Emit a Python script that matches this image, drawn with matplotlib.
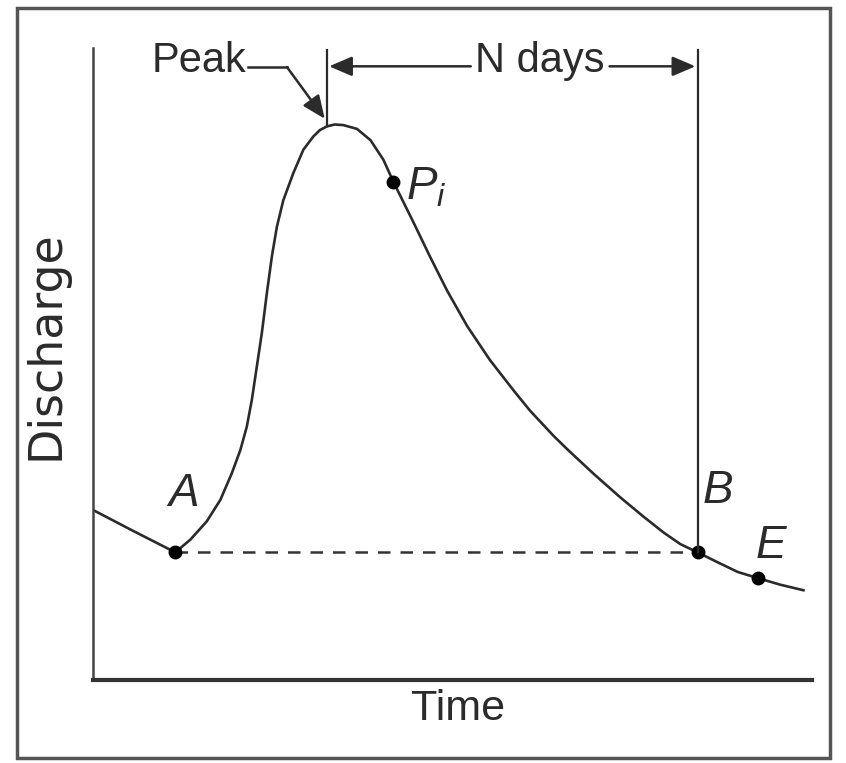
import matplotlib.pyplot as plt
from matplotlib.patches import Rectangle

# hydrograph (time, discharge in arbitrary 0-100 units)
time = [0.0, 5.6, 11.5, 13.6, 15.9, 17.8, 19.4, 20.6, 21.5, 22.2, 22.9, 23.6,
        24.3, 25.0, 25.7, 26.6, 28.0, 29.4, 30.8, 31.7, 32.7, 33.8, 35.0,
        36.9, 38.8, 40.6, 42.0, 43.4, 44.8, 47.1, 49.5, 52.3, 55.5, 58.8,
        61.1, 64.4, 66.3, 70.0, 73.7, 77.0, 79.8, 82.1, 84.5, 87.0, 90.1,
        93.0, 96.0, 99.3]
discharge = [26.9, 23.6, 20.2, 22.2, 25.1, 28.5, 32.7, 36.4, 40.1, 44.3, 49.6,
             54.9, 61.2, 67.0, 71.7, 75.9, 80.2, 83.9, 86.0, 87.0, 87.6, 87.9,
             87.8, 87.2, 85.4, 82.3, 78.8, 75.6, 72.4, 67.0, 61.6, 56.0, 50.6,
             45.8, 42.6, 38.6, 36.5, 32.6, 28.9, 25.8, 23.3, 21.5, 20.2, 18.8,
             17.1, 16.1, 15.1, 14.2]

point_names = ['A', 'B', 'E', '$P_i$']
point_time = [11.5, 84.5, 93.0, 42.0]
point_q = [20.2, 20.2, 16.1, 78.8]
label_time = [12.6, 87.4, 94.8, 46.6]
label_q = [29.4, 29.9, 21.2, 78.0]

peak_time, peak_q = 32.7, 87.6
top_q = 99.7      # top of the guide lines
arrow_q = 97.1    # level of the "N days" arrow

plt.rcParams['mathtext.fontset'] = 'custom'
plt.rcParams['mathtext.it'] = 'Liberation Sans:italic'
plt.rcParams['mathtext.rm'] = 'Liberation Sans'

ink = '#2b2b2b'
sans = ['Liberation Sans', 'DejaVu Sans']

fig = plt.figure(figsize=(8.46, 7.63), dpi=100)
ax = fig.add_axes([93 / 846, 83 / 763, 719 / 846, 632 / 763])
ax.set_xlim(0, 100.5)
ax.set_ylim(0, 100)
ax.set_xticks([])
ax.set_yticks([])
for s in ['top', 'right']:
    ax.spines[s].set_visible(False)
ax.spines['left'].set_linewidth(1.8)
ax.spines['left'].set_color('#444444')
ax.spines['bottom'].set_linewidth(3.0)
ax.spines['bottom'].set_color('#333333')

# curve
ax.plot(time, discharge, color=ink, lw=1.9, solid_joinstyle='round')

# baseflow separation A -> B
ax.plot([point_time[0], point_time[1]], [point_q[0], point_q[1]],
        color='#333333', lw=1.8, dashes=(5, 4))

# points and labels
ax.plot(point_time, point_q, 'o', color='black', ms=9)
for name, lt, lq in zip(point_names, label_time, label_q):
    ax.text(lt, lq, name, fontsize=33, style='italic', color=ink,
            family=sans, ha='center', va='center')

# guide lines at peak and B
ax.plot([peak_time, peak_time], [peak_q, top_q], color=ink, lw=1.6)
ax.plot([point_time[1], point_time[1]], [point_q[1], top_q], color=ink, lw=1.6)

# N days arrow
ax.text(62.5, 98.0, 'N days', fontsize=30, color=ink, ha='center',
        va='center', family=sans)
arrow = dict(arrowstyle='-|>,head_length=0.7,head_width=0.3', color=ink,
             lw=1.8, mutation_scale=20, shrinkA=0, shrinkB=0)
ax.annotate('', xy=(peak_time + 0.3, arrow_q), xytext=(52.8, arrow_q),
            arrowprops=arrow)
ax.annotate('', xy=(point_time[1] - 0.3, arrow_q), xytext=(72.2, arrow_q),
            arrowprops=arrow)

# Peak leader
ax.text(21.4, 98.0, 'Peak', fontsize=30, color=ink, ha='right', va='center',
        family=sans)
ax.plot([21.6, 27.1], [97.0, 97.0], color=ink, lw=1.8)
ax.annotate('', xy=(peak_time - 0.3, peak_q + 1.2), xytext=(27.1, 97.0),
            arrowprops=arrow)

# axis titles
fig.text(458 / 846, 1 - 709 / 763, 'Time', fontsize=31, color=ink,
         ha='center', va='center', family=sans)
fig.text(46 / 846, 1 - 345 / 763, 'Discharge', fontsize=33, color=ink,
         rotation=90, ha='center', va='center', family='DejaVu Sans')

# outer frame of the scanned figure
fig.patches.append(Rectangle((17 / 846, 5 / 763), 813 / 846, 750 / 763,
                             transform=fig.transFigure, fill=False,
                             ec='#555555', lw=2.5))

fig.savefig('out.png', dpi=100)
